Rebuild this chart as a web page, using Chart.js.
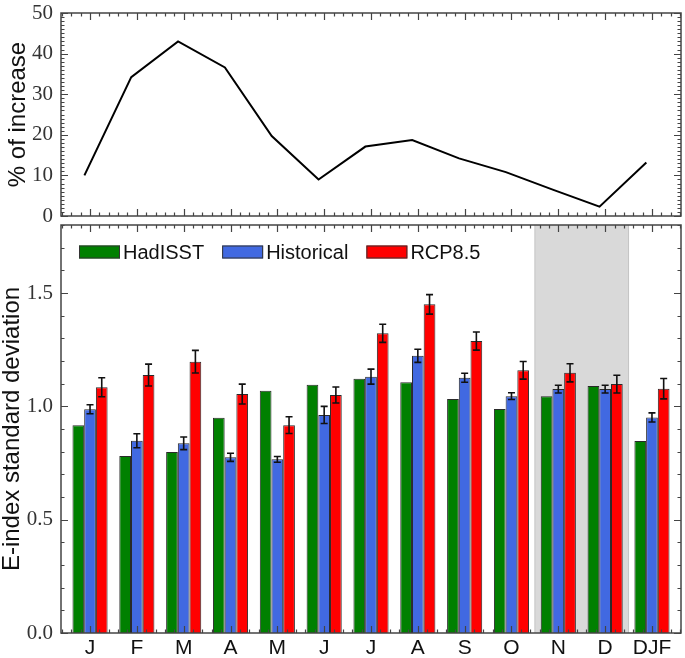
<!DOCTYPE html>
<html>
<head>
<meta charset="utf-8">
<script src="https://cdn.jsdelivr.net/npm/chart.js@4"></script>
<style>
  body { margin: 0; background: #fff; }
  #wrap { position: relative; width: 685px; height: 658px; }
  canvas { position: absolute; left: 0; }
</style>
</head>
<body>
<div id="wrap">
  <canvas id="chart-top" width="685" height="222" style="top:0"></canvas>
  <canvas id="chart-bottom" width="685" height="436" style="top:222px"></canvas>
</div>
<script>
// categories
const months = ['J', 'F', 'M', 'A', 'M', 'J', 'J', 'A', 'S', 'O', 'N', 'D', 'DJF'];

// top panel: % of increase
const pctIncrease = [10.0, 34.2, 43.0, 36.6, 19.7, 9.0, 17.1, 18.7, 14.2, 10.8, 6.5, 2.3, 13.2];

// bottom panel: E-index standard deviation
const hadisst       = [0.917, 0.781, 0.798, 0.950, 1.069, 1.095, 1.122, 1.106, 1.032, 0.988, 1.045, 1.090, 0.847];
const historical    = [0.987, 0.848, 0.837, 0.775, 0.766, 0.962, 1.131, 1.223, 1.126, 1.045, 1.076, 1.076, 0.951];
const historicalErr = [0.020, 0.031, 0.028, 0.018, 0.013, 0.038, 0.033, 0.029, 0.020, 0.015, 0.017, 0.017, 0.020];
const rcp85         = [1.084, 1.138, 1.197, 1.054, 0.917, 1.050, 1.322, 1.450, 1.288, 1.159, 1.148, 1.098, 1.078];
const rcp85Err      = [0.042, 0.048, 0.050, 0.044, 0.037, 0.035, 0.040, 0.043, 0.040, 0.039, 0.040, 0.039, 0.045];

// tick labels
const topYTicks = [0, 10, 20, 30, 40, 50];
const bottomYTicks = [0, 0.5, 1.0, 1.5];

// shaded months (N, D)
const shadedFrom = months.indexOf('N'), shadedTo = months.indexOf('D');

// layout bits
const xMin = -0.62, xMax = 12.62;
const lineShift = -0.12;
const serif = 'Liberation Serif';
const sans = 'Liberation Sans';

// frame with inward major / minor ticks on all four sides
const framePlugin = {
  id: 'frame',
  afterDraw(chart, args, opts) {
    const { ctx, chartArea: a, scales: { x, y } } = chart;
    ctx.save();
    ctx.strokeStyle = '#444';
    ctx.lineWidth = 1.2;
    ctx.beginPath();
    const big = 7, small = 3.5;
    // x ticks
    for (let k = Math.ceil(xMin / 0.2); k <= Math.floor(xMax / 0.2); k++) {
      const v = k * 0.2;
      const px = Math.round(x.getPixelForValue(v)) + 0.5;
      const len = Math.abs(v - Math.round(v)) < 1e-6 ? big : small;
      ctx.moveTo(px, a.bottom); ctx.lineTo(px, a.bottom - len);
      ctx.moveTo(px, a.top); ctx.lineTo(px, a.top + len);
    }
    // y ticks
    const n = Math.round((y.max - y.min) / opts.minor);
    for (let k = 0; k <= n; k++) {
      const v = y.min + k * opts.minor;
      const r = v / opts.major;
      const len = Math.abs(r - Math.round(r)) < 1e-6 ? big : small;
      const py = Math.round(y.getPixelForValue(v)) + 0.5;
      ctx.moveTo(a.left, py); ctx.lineTo(a.left + len, py);
      ctx.moveTo(a.right, py); ctx.lineTo(a.right - len, py);
    }
    ctx.stroke();
    ctx.lineWidth = 1.5;
    ctx.strokeRect(a.left, a.top, a.right - a.left, a.bottom - a.top);
    ctx.restore();
  }
};

// grey band behind N and D
const shadePlugin = {
  id: 'shade',
  beforeDatasetsDraw(chart) {
    const { ctx, chartArea: a, scales: { x } } = chart;
    const x0 = x.getPixelForValue(shadedFrom - 0.5);
    const x1 = x.getPixelForValue(shadedTo + 0.5);
    ctx.save();
    ctx.fillStyle = '#d9d9d9';
    ctx.fillRect(x0, a.top, x1 - x0, a.bottom - a.top);
    ctx.strokeStyle = '#c4c4c4';
    ctx.lineWidth = 1;
    ctx.beginPath();
    ctx.moveTo(x0, a.top); ctx.lineTo(x0, a.bottom);
    ctx.moveTo(x1, a.top); ctx.lineTo(x1, a.bottom);
    ctx.stroke();
    ctx.restore();
  }
};

// error bars from dataset.errors
const errorBarPlugin = {
  id: 'errorBars',
  afterDatasetsDraw(chart) {
    const { ctx, scales: { y } } = chart;
    ctx.save();
    ctx.strokeStyle = '#111';
    ctx.lineWidth = 1.6;
    chart.data.datasets.forEach((ds, i) => {
      if (!ds.errors) return;
      chart.getDatasetMeta(i).data.forEach((bar, j) => {
        const v = ds.data[j].y, e = ds.errors[j];
        const yt = y.getPixelForValue(v + e), yb = y.getPixelForValue(v - e);
        ctx.beginPath();
        ctx.moveTo(bar.x, yt); ctx.lineTo(bar.x, yb);
        ctx.moveTo(bar.x - 3.5, yt); ctx.lineTo(bar.x + 3.5, yt);
        ctx.moveTo(bar.x - 3.5, yb); ctx.lineTo(bar.x + 3.5, yb);
        ctx.stroke();
      });
    });
    ctx.restore();
  }
};

// legend inside the plot, top left
const legendPlugin = {
  id: 'boxLegend',
  afterDatasetsDraw(chart) {
    const { ctx, chartArea: a } = chart;
    ctx.save();
    ctx.font = '20px ' + sans;
    ctx.textBaseline = 'middle';
    let px = a.left + 18;
    const cy = a.top + 27;
    chart.data.datasets.forEach(ds => {
      ctx.fillStyle = ds.backgroundColor;
      ctx.fillRect(px, cy - 6.5, 41, 13);
      ctx.strokeStyle = '#333';
      ctx.lineWidth = 1;
      ctx.strokeRect(px + 0.5, cy - 6, 40, 12);
      ctx.fillStyle = '#111';
      ctx.fillText(ds.label, px + 44, cy + 1);
      px += 44 + ctx.measureText(ds.label).width + 18;
    });
    ctx.restore();
  }
};

const xAxis = (showLabels, height) => ({
  type: 'linear',
  min: xMin,
  max: xMax,
  offset: false,
  afterBuildTicks: s => { s.ticks = months.map((m, i) => ({ value: i })); },
  afterFit: s => { s.height = height; s.paddingLeft = 0; s.paddingRight = 0; },
  grid: { display: false, drawTicks: false, offset: false },
  border: { display: false },
  ticks: {
    display: showLabels,
    padding: 3,
    color: '#111',
    font: { family: sans, size: 21, lineHeight: 1.2 },
    callback: v => months[v]
  }
});

const yAxis = (min, max, ticks, fmt, title, titlePad) => ({
  min: min,
  max: max,
  afterBuildTicks: s => { s.ticks = ticks.map(v => ({ value: v })); },
  afterFit: s => { s.width = 61; s.paddingTop = 0; s.paddingBottom = 0; },
  grid: { display: false, drawTicks: false },
  border: { display: false },
  ticks: { padding: 8, color: '#333', font: { family: serif, size: 21 }, callback: fmt },
  title: {
    display: true,
    text: title,
    color: '#111',
    font: { family: sans, size: 24, lineHeight: 1 },
    padding: { top: titlePad, bottom: 0 }
  }
});

new Chart(document.getElementById('chart-top').getContext('2d'), {
  type: 'line',
  data: {
    datasets: [{
      label: '% of increase',
      data: pctIncrease.map((v, i) => ({ x: i + lineShift, y: v })),
      borderColor: '#000',
      borderWidth: 2,
      pointRadius: 0,
      tension: 0,
      fill: false
    }]
  },
  options: {
    responsive: false,
    animation: false,
    layout: { padding: { top: 13, right: 4, left: 0, bottom: 0 } },
    plugins: { legend: { display: false }, tooltip: { enabled: false }, frame: { major: 10, minor: 1 } },
    scales: {
      x: xAxis(false, 6),
      y: yAxis(0, 50, topYTicks, v => String(v), '% of increase', 6)
    }
  },
  plugins: [framePlugin]
});

const barSet = (label, values, color, errors) => ({
  label: label,
  data: values.map((v, i) => ({ x: i, y: v })),
  backgroundColor: color,
  borderColor: '#2a2a2a',
  borderWidth: 1,
  borderSkipped: 'bottom',
  categoryPercentage: 0.75,
  barPercentage: 1.0,
  errors: errors
});

new Chart(document.getElementById('chart-bottom').getContext('2d'), {
  type: 'bar',
  data: {
    datasets: [
      barSet('HadISST', hadisst, '#008000', null),
      barSet('Historical', historical, '#4169e1', historicalErr),
      barSet('RCP8.5', rcp85, '#ff0000', rcp85Err)
    ]
  },
  options: {
    responsive: false,
    animation: false,
    layout: { padding: { top: 3, right: 4, left: 0, bottom: 0 } },
    plugins: { legend: { display: false }, tooltip: { enabled: false }, frame: { major: 0.5, minor: 0.1 } },
    scales: {
      x: xAxis(true, 25),
      y: yAxis(0, 1.8, bottomYTicks, v => v.toFixed(1), 'E-index standard deviation', 0)
    }
  },
  plugins: [shadePlugin, errorBarPlugin, legendPlugin, framePlugin]
});
</script>
</body>
</html>
